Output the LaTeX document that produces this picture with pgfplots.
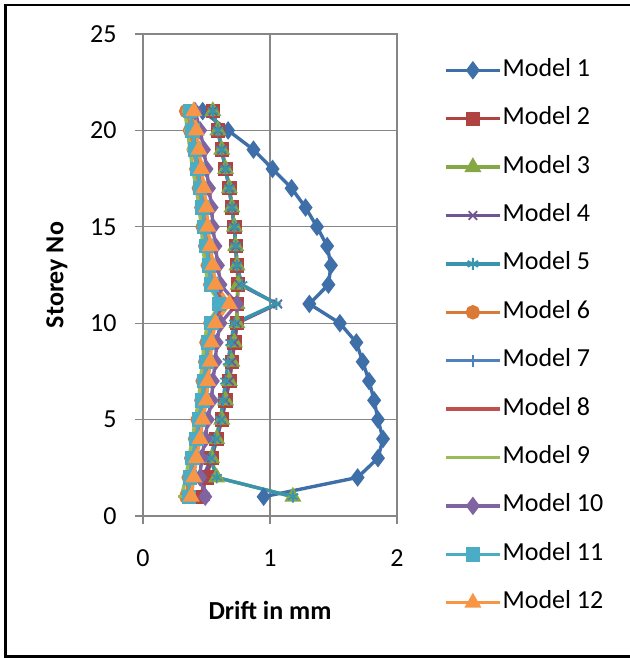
\documentclass[border=0pt]{standalone}
\usepackage{fontspec}
\setmainfont{Carlito}
\usepackage{pgfplots}
\pgfplotsset{compat=1.18}

\definecolor{m1}{HTML}{3F6FA8}
\definecolor{m2}{HTML}{B04340}
\definecolor{m3}{HTML}{86A844}
\definecolor{m4}{HTML}{6F5690}
\definecolor{m5}{HTML}{3A95AC}
\definecolor{m6}{HTML}{DB7A36}
\definecolor{m7}{HTML}{4F81BD}
\definecolor{m8}{HTML}{C0504D}
\definecolor{m9}{HTML}{9BBB59}
\definecolor{m10}{HTML}{8064A2}
\definecolor{m11}{HTML}{4BACC6}
\definecolor{m12}{HTML}{F79646}
\definecolor{axgray}{HTML}{868686}

\begin{document}
\begin{tikzpicture}[x=1pt,y=1pt]
\useasboundingbox (0,0) rectangle (629,658);
\draw[line width=2.6pt] (5.5,1.2) rectangle (632,652.8);
\begin{axis}[
  at={(143pt,142pt)}, anchor=south west,
  scale only axis, width=254pt, height=482pt,
  xmin=0, xmax=2, ymin=0, ymax=25,
  xtick={0,1,2}, ytick={0,5,10,15,20,25},
  tick pos=left, tick align=outside, major tick length=8pt,
  tick style={axgray, line width=1.3pt},
  grid=major, grid style={axgray, line width=1.3pt},
  axis line style={axgray, line width=1.3pt},
  /pgf/number format/assume math mode=true,
  font=\fontsize{26}{31}\selectfont,
  ticklabel style={font=\fontsize{26}{31}\selectfont},
  yticklabel style={xshift=-15pt},
  xticklabel style={yshift=-22pt},
  xlabel={\textbf{Drift in mm}},
  ylabel={\textbf{Storey No}},
  xlabel style={at={(axis description cs:0.5,-0.195)}, anchor=center},
  ylabel style={at={(axis description cs:-0.339,0.5)}, anchor=center},
  every axis plot/.append style={line width=3.4pt},
  legend image code/.code={\draw[mark repeat=2,mark phase=2] plot coordinates {(0pt,0pt)(27pt,0pt)(54pt,0pt)};},
  legend cell align=left,
  legend style={at={(axis description cs:1.185,0.950)}, anchor=north west,
    draw=none, fill=none, inner sep=0pt, row sep=24.4pt,
    font=\fontsize{26}{31}\selectfont,
    nodes={inner sep=0pt, text height=18pt, text depth=6pt},
    /tikz/every odd column/.style={column sep=1pt}},
]
% Model 1
\addplot[m1, mark=diamond*, mark size=6.5pt, mark options={solid}] coordinates {
(0.95,1)(1.69,2)(1.85,3)(1.89,4)(1.85,5)(1.82,6)(1.78,7)(1.73,8)(1.68,9)(1.55,10)
(1.31,11)(1.46,12)(1.48,13)(1.45,14)(1.37,15)(1.28,16)(1.17,17)(1.02,18)(0.87,19)(0.67,20)(0.47,21)};
\addlegendentry{Model 1}
% Model 2
\addplot[m2, mark=square*, mark size=5.5pt] coordinates {
(0.45,1)(0.50,2)(0.54,3)(0.58,4)(0.62,5)(0.65,6)(0.68,7)(0.70,8)(0.72,9)(0.74,10)
(0.74,11)(0.75,12)(0.74,13)(0.73,14)(0.72,15)(0.70,16)(0.68,17)(0.65,18)(0.62,19)(0.59,20)(0.55,21)};
\addlegendentry{Model 2}
% Model 3
\addplot[m3, mark=triangle*, mark size=6.5pt] coordinates {
(1.18,1)(0.58,2)(0.54,3)(0.58,4)(0.62,5)(0.65,6)(0.68,7)(0.70,8)(0.72,9)(0.74,10)
(0.74,11)(0.75,12)(0.74,13)(0.73,14)(0.72,15)(0.70,16)(0.68,17)(0.65,18)(0.62,19)(0.59,20)(0.55,21)};
\addlegendentry{Model 3}
% Model 4
\addplot[m4, mark=x, mark size=6pt, mark options={line width=1.8pt}] coordinates {
(0.49,1)(0.47,2)(0.54,3)(0.58,4)(0.62,5)(0.65,6)(0.68,7)(0.70,8)(0.72,9)(0.74,10)
(1.06,11)(0.76,12)(0.74,13)(0.73,14)(0.72,15)(0.70,16)(0.68,17)(0.65,18)(0.62,19)(0.59,20)(0.55,21)};
\addlegendentry{Model 4}
% Model 5
\addplot[m5, mark=asterisk, mark size=6pt, mark options={line width=1.8pt}] coordinates {
(1.18,1)(0.58,2)(0.53,3)(0.57,4)(0.61,5)(0.63,6)(0.65,7)(0.67,8)(0.69,9)(0.72,10)
(1.05,11)(0.78,12)(0.74,13)(0.73,14)(0.72,15)(0.70,16)(0.68,17)(0.65,18)(0.62,19)(0.59,20)(0.55,21)};
\addlegendentry{Model 5}
% Model 6
\addplot[m6, mark=*, mark size=5.5pt] coordinates {
(0.34,1)(0.36,2)(0.38,3)(0.41,4)(0.43,5)(0.46,6)(0.47,7)(0.49,8)(0.50,9)(0.53,10)
(0.62,11)(0.53,12)(0.51,13)(0.49,14)(0.47,15)(0.46,16)(0.44,17)(0.42,18)(0.40,19)(0.37,20)(0.34,21)};
\addlegendentry{Model 6}
% Model 7
\addplot[m7, mark=+, mark size=6pt, mark options={line width=1.8pt}] coordinates {
(0.36,1)(0.38,2)(0.40,3)(0.43,4)(0.45,5)(0.48,6)(0.49,7)(0.51,8)(0.52,9)(0.55,10)
(0.64,11)(0.55,12)(0.53,13)(0.51,14)(0.49,15)(0.48,16)(0.46,17)(0.44,18)(0.42,19)(0.40,20)(0.38,21)};
\addlegendentry{Model 7}
% Model 8
\addplot[m8, mark=-, mark size=3pt] coordinates {
(0.37,1)(0.39,2)(0.41,3)(0.44,4)(0.46,5)(0.49,6)(0.50,7)(0.52,8)(0.53,9)(0.56,10)
(0.65,11)(0.56,12)(0.54,13)(0.52,14)(0.50,15)(0.49,16)(0.47,17)(0.45,18)(0.43,19)(0.41,20)(0.39,21)};
\addlegendentry{Model 8}
% Model 9
\addplot[m9, mark=-, mark size=3pt] coordinates {
(0.30,1)(0.34,2)(0.36,3)(0.39,4)(0.41,5)(0.44,6)(0.45,7)(0.47,8)(0.48,9)(0.51,10)
(0.61,11)(0.51,12)(0.49,13)(0.47,14)(0.46,15)(0.44,16)(0.42,17)(0.39,18)(0.37,19)(0.35,20)(0.33,21)};
\addlegendentry{Model 9}
% Model 10
\addplot[m10, mark=diamond*, mark size=6.5pt] coordinates {
(0.49,1)(0.45,2)(0.46,3)(0.49,4)(0.51,5)(0.54,6)(0.55,7)(0.57,8)(0.58,9)(0.61,10)
(0.74,11)(0.61,12)(0.59,13)(0.57,14)(0.55,15)(0.54,16)(0.52,17)(0.50,18)(0.48,19)(0.45,20)(0.41,21)};
\addlegendentry{Model 10}
% Model 11
\addplot[m11, mark=square*, mark size=5.5pt] coordinates {
(0.36,1)(0.37,2)(0.39,3)(0.42,4)(0.44,5)(0.47,6)(0.48,7)(0.50,8)(0.51,9)(0.54,10)
(0.60,11)(0.54,12)(0.52,13)(0.50,14)(0.48,15)(0.47,16)(0.45,17)(0.43,18)(0.41,19)(0.39,20)(0.37,21)};
\addlegendentry{Model 11}
% Model 12
\addplot[m12, mark=triangle*, mark size=6.5pt] coordinates {
(0.38,1)(0.40,2)(0.42,3)(0.45,4)(0.47,5)(0.50,6)(0.51,7)(0.53,8)(0.54,9)(0.57,10)
(0.68,11)(0.57,12)(0.55,13)(0.53,14)(0.51,15)(0.50,16)(0.48,17)(0.46,18)(0.44,19)(0.42,20)(0.40,21)};
\addlegendentry{Model 12}
\end{axis}
\end{tikzpicture}
\end{document}
